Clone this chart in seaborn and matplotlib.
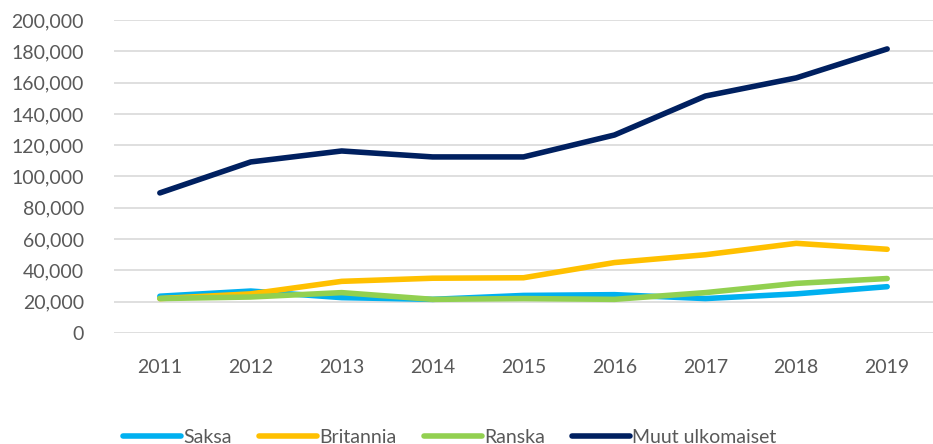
import pandas as pd
import matplotlib.pyplot as plt
import seaborn as sns
from matplotlib.ticker import FuncFormatter

# Data
years = ["2011", "2012", "2013", "2014", "2015", "2016", "2017", "2018", "2019"]
saksa = [23500, 26800, 22600, 21500, 24000, 24500, 22000, 25000, 29600]
britannia = [22000, 25000, 33000, 35000, 35300, 45000, 50000, 57300, 53500]
ranska = [22000, 23000, 25800, 21500, 22000, 21500, 25800, 31700, 34800]
muut = [89500, 109300, 116300, 112500, 112500, 126500, 151400, 163000, 181500]

series = ["Saksa", "Britannia", "Ranska", "Muut ulkomaiset"]
colors = ["#00B0F0", "#FFC000", "#92D050", "#002060"]

df = pd.DataFrame({"Vuosi": years, "Saksa": saksa, "Britannia": britannia,
                   "Ranska": ranska, "Muut ulkomaiset": muut})
long = df.melt(id_vars="Vuosi", var_name="Sarja", value_name="Arvo")

sns.set_style("white")
plt.rcParams["font.family"] = ["Lato", "DejaVu Sans"]

fig = plt.figure(figsize=(9.33, 4.44), dpi=100)
ax = fig.add_axes([0.1226, 0.25, 0.877, 0.705])

sns.lineplot(data=long, x="Vuosi", y="Arvo", hue="Sarja", hue_order=series,
             palette=colors, linewidth=4, sort=False, ax=ax,
             solid_capstyle="round", solid_joinstyle="round")

ax.set_xlim(-0.5, len(years) - 0.5)
ax.set_ylim(0, 200000)
ax.set_yticks(range(0, 200001, 20000))
ax.yaxis.set_major_formatter(FuncFormatter(lambda v, p: f"{int(v):,}"))
ax.grid(axis="y", color="#D9D9D9", linewidth=1.2)
ax.set_axisbelow(True)
for s in ax.spines.values():
    s.set_visible(False)
ax.tick_params(axis="both", length=0, labelsize=14, labelcolor="#595959")
ax.tick_params(axis="x", pad=19)
ax.tick_params(axis="y", pad=22)
ax.set_xlabel("")
ax.set_ylabel("")

leg = ax.legend(loc="lower center", bbox_to_anchor=(0.41, -0.385), ncol=4,
                frameon=False, fontsize=14, handlelength=3.0, handletextpad=0.1,
                columnspacing=1.4, borderaxespad=0)
for t in leg.get_texts():
    t.set_color("#595959")
for line in leg.get_lines():
    line.set_linewidth(4)
    line.set_solid_capstyle("round")

fig.savefig("out.png", dpi=100)
